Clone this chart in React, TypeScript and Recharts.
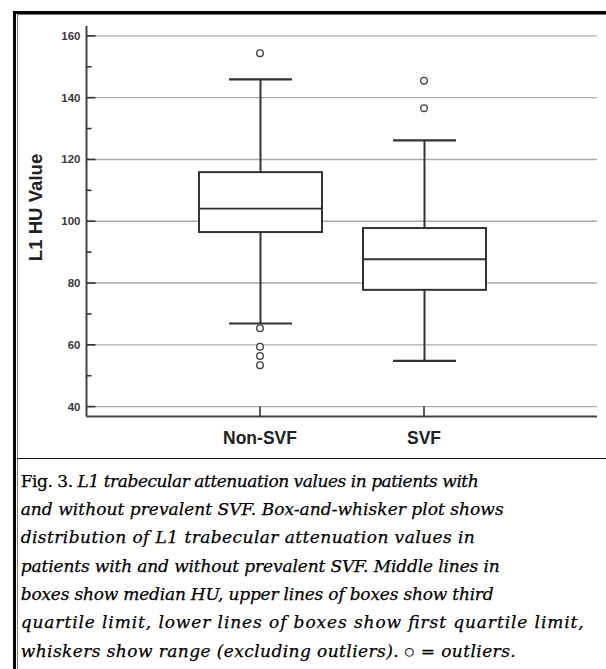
import React from 'react';
import { ComposedChart, Bar, XAxis, YAxis, CartesianGrid, ReferenceDot } from 'recharts';

// ---- data ----
const categories = ['Non-SVF', 'SVF'];
const whiskerLow = [66.9, 54.8];
const q1Values = [96.5, 77.8];
const medianValues = [104.1, 87.7];
const q3Values = [115.9, 97.8];
const whiskerHigh = [145.9, 126.2];
const outliersNonSVF = [154.4, 65.4, 59.4, 56.4, 53.4];
const outliersSVF = [145.5, 136.6];
const yMajorTicks = [40, 60, 80, 100, 120, 140, 160];
const yMinorTicks = [50, 70, 90, 110, 130, 150];
const yDomain: [number, number] = [36.8, 163.2];
const yLabel = 'L1 HU Value';
const captionPrefix = 'Fig. 3. ';
const captionLines = [
  'L1 trabecular attenuation values in patients with',
  'and without prevalent SVF. Box-and-whisker plot shows',
  'distribution of L1 trabecular attenuation values in',
  'patients with and without prevalent SVF. Middle lines in',
  'boxes show median HU, upper lines of boxes show third',
  'quartile limit, lower lines of boxes show first quartile limit,',
  'whiskers show range (excluding outliers). ',
];
const captionOutlierSymbol = '\u25CB';
const captionTail = ' = outliers.';
const captionLineWidths = [458, 483, 454, 479, 473, 563, 495];

const data = categories.map((name, i) => ({
  name,
  low: whiskerLow[i],
  q1: q1Values[i],
  median: medianValues[i],
  q3: q3Values[i],
  high: whiskerHigh[i],
  box: [q1Values[i], q3Values[i]],
}));

const outlierPoints = [
  ...outliersNonSVF.map((v) => ({ name: categories[0], v })),
  ...outliersSVF.map((v) => ({ name: categories[1], v })),
];

const allYTicks = [...yMajorTicks, ...yMinorTicks].sort((a, b) => a - b);

const STROKE = '#333';

const BoxShape = (props: any) => {
  const { x, y, width, height, payload } = props;
  const top = Math.min(y, y + height);
  const bottom = Math.max(y, y + height);
  const pxPerUnit = (bottom - top) / (payload.q3 - payload.q1);
  const toY = (v: number) => bottom - (v - payload.q1) * pxPerUnit;
  const cx = x + width / 2;
  const capHalf = width * 0.256;
  const yHigh = toY(payload.high);
  const yLow = toY(payload.low);
  const yMed = toY(payload.median);
  return (
    <g>
      <line x1={cx} x2={cx} y1={yHigh} y2={top} stroke={STROKE} strokeWidth={2} />
      <line x1={cx} x2={cx} y1={bottom} y2={yLow} stroke={STROKE} strokeWidth={2} />
      <line x1={cx - capHalf} x2={cx + capHalf} y1={yHigh} y2={yHigh} stroke={STROKE} strokeWidth={2.2} />
      <line x1={cx - capHalf} x2={cx + capHalf} y1={yLow} y2={yLow} stroke={STROKE} strokeWidth={2.2} />
      <rect x={x} y={top} width={width} height={bottom - top} fill="#fff" stroke={STROKE} strokeWidth={2} />
      <line x1={x} x2={x + width} y1={yMed} y2={yMed} stroke={STROKE} strokeWidth={1.8} />
    </g>
  );
};

const YTick = (props: any) => {
  const { x, y, payload } = props;
  const major = yMajorTicks.includes(payload.value);
  return (
    <g>
      <line x1={x} x2={x + (major ? 9 : 5)} y1={y} y2={y} stroke={STROKE} strokeWidth={1.6} />
      {major && (
        <text
          x={x - 6}
          y={y + 4}
          textAnchor="end"
          fontSize={11.5}
          fontWeight="bold"
          fill="#3a3a3a"
          fontFamily='"Liberation Sans", Arial, sans-serif'
        >
          {payload.value}
        </text>
      )}
    </g>
  );
};

const XTick = (props: any) => {
  const { x, y, payload } = props;
  return (
    <g>
      <line x1={x} x2={x} y1={y} y2={y - 10} stroke={STROKE} strokeWidth={1.6} />
      <text
        x={x}
        y={y + 27.8}
        textAnchor="middle"
        fontSize={17.5}
        fontWeight="bold"
        fill="#222"
        fontFamily='"Liberation Sans", Arial, sans-serif'
      >
        {payload.value}
      </text>
    </g>
  );
};

const YLabel = () => (
  <text
    x={42.3}
    y={207.5}
    transform="rotate(-90, 42.3, 207.5)"
    textAnchor="middle"
    fontSize={18.6}
    fontWeight="bold"
    fill="#222"
    fontFamily='"Liberation Sans", Arial, sans-serif'
  >
    {yLabel}
  </text>
);

export default function App() {
  const lineGap = 28.33;
  const firstBaseline = 28.7;
  return (
    <div style={{ position: 'absolute', left: 0, top: 0, width: 606, height: 669, background: '#fff', overflow: 'hidden' }}>
      <div style={{ position: 'absolute', left: 0, top: 0 }}>
        <ComposedChart width={606} height={458} data={data} margin={{ top: 26, right: 9, left: 26.5, bottom: 11.5 }}>
          <CartesianGrid vertical={false} stroke="#aaa" strokeWidth={1.4} horizontalValues={yMajorTicks} />
          <XAxis
            dataKey="name"
            type="category"
            padding={{ left: 91.5, right: 91 }}
            tickLine={false}
            tickSize={0}
            tickMargin={0}
            height={30}
            axisLine={{ stroke: '#444', strokeWidth: 2 }}
            tick={<XTick />}
            interval={0}
          />
          <YAxis
            type="number"
            domain={yDomain}
            ticks={allYTicks}
            allowDataOverflow
            width={60}
            tickLine={false}
            tickSize={0}
            tickMargin={0}
            interval={0}
            axisLine={{ stroke: '#444', strokeWidth: 2 }}
            tick={<YTick />}
            label={<YLabel />}
          />
          <Bar dataKey="box" barSize={123} shape={<BoxShape />} isAnimationActive={false} />
          {outlierPoints.map((p, i) => (
            <ReferenceDot key={i} x={p.name} y={p.v} r={3.3} fill="#fff" stroke="#444" strokeWidth={1.4} />
          ))}
        </ComposedChart>
      </div>
      {/* frame */}
      <div style={{ position: 'absolute', left: 13, top: 10.5, width: 593, height: 3, background: '#000' }} />
      <div style={{ position: 'absolute', left: 17, top: 14.3, width: 589, height: 1, background: '#777' }} />
      <div style={{ position: 'absolute', left: 13, top: 10.5, width: 3, height: 659, background: '#000' }} />
      <div style={{ position: 'absolute', left: 17.2, top: 14.3, width: 1, height: 655, background: '#777' }} />
      <div style={{ position: 'absolute', left: 17, top: 457.6, width: 589, height: 1.4, background: '#111' }} />
      {/* caption */}
      <svg
        width={606}
        height={211}
        style={{ position: 'absolute', left: 0, top: 458 }}
        fontFamily='"DejaVu Serif", serif'
        fontSize={17}
        fill="#000"
      >
        {captionLines.map((l, i) => (
          <text
            key={i}
            x={20.7}
            y={firstBaseline + i * lineGap}
            textLength={captionLineWidths[i]}
            lengthAdjust="spacing"
            stroke="#000"
            strokeWidth={0.25}
          >
            {i === 0 && <tspan>{captionPrefix}</tspan>}
            <tspan fontStyle="italic">{l}</tspan>
            {i === captionLines.length - 1 && (
              <>
                <tspan fontSize={11} dy={-1.5}>{captionOutlierSymbol}</tspan>
                <tspan fontStyle="italic" dy={1.5}>{captionTail}</tspan>
              </>
            )}
          </text>
        ))}
      </svg>
    </div>
  );
}
